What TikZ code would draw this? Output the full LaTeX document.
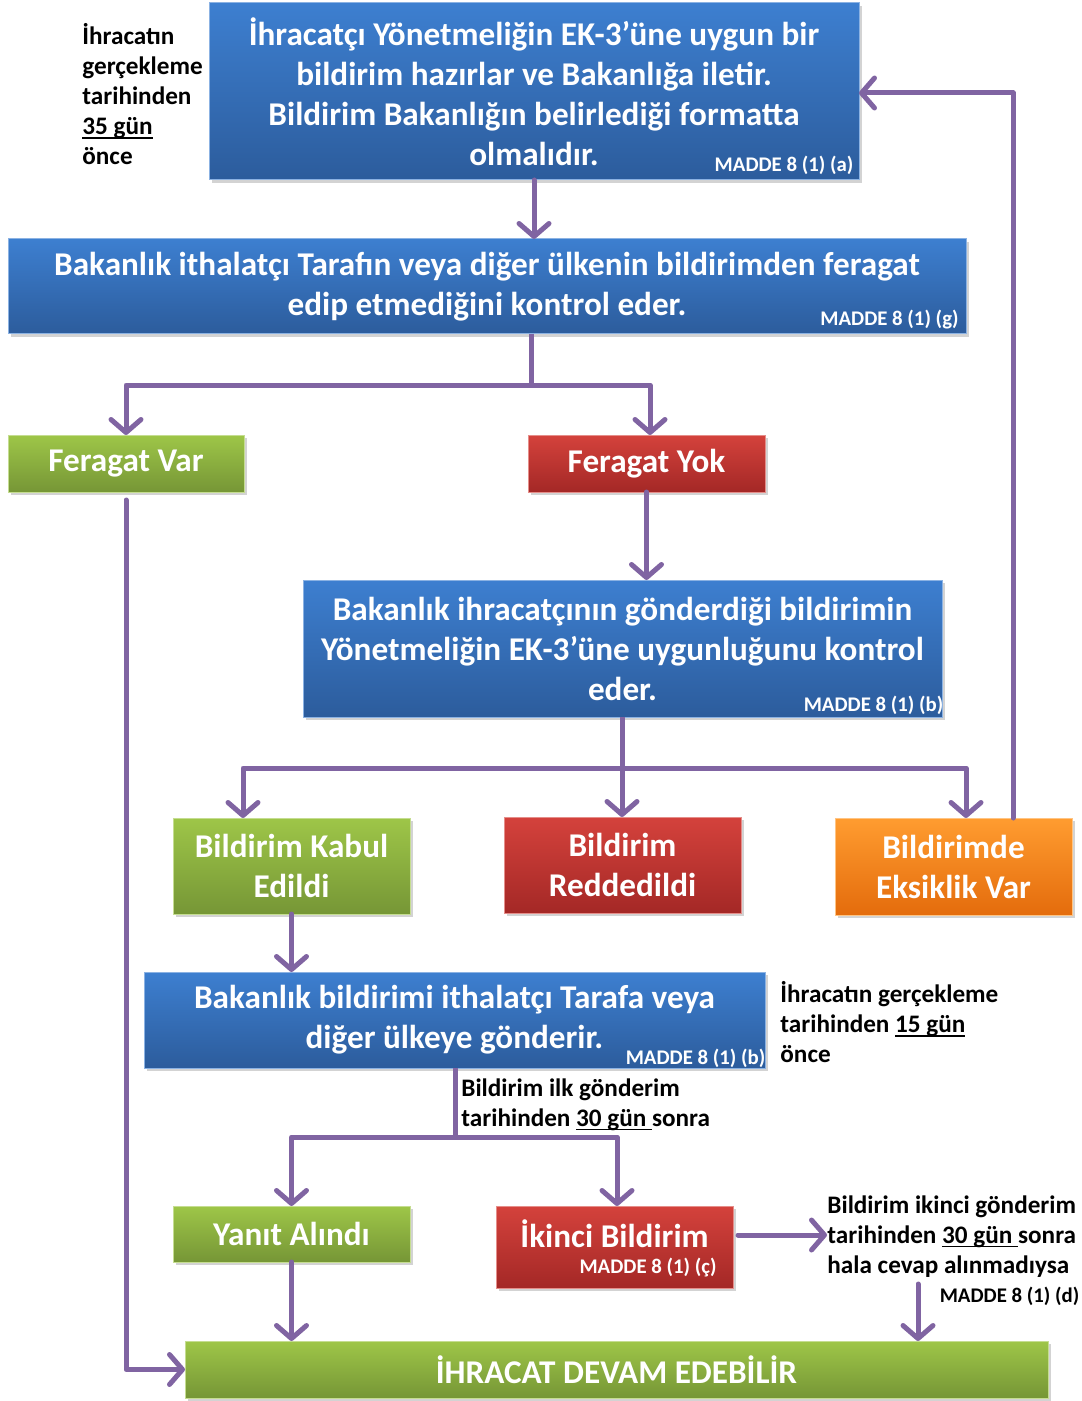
\documentclass[tikz,border=0pt]{standalone}
\usepackage{fontspec}
\setmainfont{Carlito}
\usetikzlibrary{arrows.meta,shadows}
\definecolor{lineC}{HTML}{8064A2}
\definecolor{blueT}{RGB}{61,127,208}
\definecolor{blueB}{RGB}{44,92,156}
\definecolor{greenT}{RGB}{158,198,72}
\definecolor{greenB}{RGB}{118,150,54}
\definecolor{redT}{RGB}{212,66,60}
\definecolor{redB}{RGB}{164,40,38}
\definecolor{orT}{RGB}{255,156,48}
\definecolor{orB}{RGB}{228,108,12}
\newcommand{\ulmark}[1]{\setbox0\hbox{#1}\rlap{\rule[-2.2pt]{\wd0}{0.8pt}}\box0}
\begin{document}
\begin{tikzpicture}[x=0.5pt,y=-0.5pt,
  box/.style={rectangle, inner sep=0pt, outer sep=0pt, align=center, text=white,
    font=\bfseries\fontsize{16.6}{20}\selectfont,
    drop shadow={shadow xshift=1.5pt,shadow yshift=-1.5pt,opacity=0.35}},
  bluebox/.style={box, top color=blueT, bottom color=blueB, draw=blueT!60!white, line width=0.5pt},
  greenbox/.style={box, top color=greenT, bottom color=greenB, draw=greenT!60!white, line width=0.5pt},
  redbox/.style={box, top color=redT, bottom color=redB, draw=redT!60!white, line width=0.5pt},
  orangebox/.style={box, top color=orT, bottom color=orB, draw=orT!60!white, line width=0.5pt},
  boxtext/.style={inner sep=0pt, text=white, font=\bfseries\fontsize{16.6}{20}\selectfont},
  madde/.style={inner sep=0pt, text=white, font=\bfseries\fontsize{10.4}{12}\selectfont},
  maddeb/.style={inner sep=0pt, text=black, font=\bfseries\fontsize{10.4}{12}\selectfont},
  note/.style={inner sep=0pt, align=left, anchor=north west, text=black,
    font=\bfseries\fontsize{12.6}{15}\selectfont},
  link/.style={draw=lineC, line width=2.5pt, line join=round},
  arr/.style={link, line cap=round, -{Straight Barb[length=6.5pt,width=15pt,round]}}
]
\useasboundingbox (0,0) rectangle (1081,1401);

% boxes
\node[bluebox, minimum width=325pt, minimum height=88.5pt] (b1) at (534,91.5)
  {İhracatçı Yönetmeliğin EK-3’üne uygun bir\\bildirim hazırlar ve Bakanlığa iletir.\\Bildirim Bakanlığın belirlediği formatta\\olmalıdır.};
\node[madde] (m1) at (784,165) {MADDE 8 (1) (a)};

\node[bluebox, minimum width=479pt, minimum height=47.5pt] (b2) at (487,286.5)
  {Bakanlık ithalatçı Tarafın veya diğer ülkenin bildirimden feragat\\edip etmediğini kontrol eder.};
\node[madde] (m2) at (889.5,320) {MADDE 8 (1) (g)};

\node[greenbox, minimum width=118pt, minimum height=28.5pt] (fvar) at (126,463.5) {Feragat Var};
\node[redbox, minimum width=118.5pt, minimum height=28.5pt] (fyok) at (646.5,463.5) {Feragat Yok};

\node[bluebox, minimum width=319.5pt, minimum height=68.5pt] (b3) at (622.5,648.5)
  {Bakanlık ihracatçının gönderdiği bildirimin\\Yönetmeliğin EK-3’üne uygunluğunu kontrol\\eder.};
\node[madde] (m3) at (873.5,705) {MADDE 8 (1) (b)};

\node[greenbox, minimum width=118.5pt, minimum height=48pt] (kabul) at (291.5,866) {Bildirim Kabul\\Edildi};
\node[redbox, minimum width=118.5pt, minimum height=48pt] (red) at (622.5,865) {Bildirim\\Reddedildi};
\node[orangebox, minimum width=118.5pt, minimum height=48.5pt] (eks) at (953.5,866.5) {Bildirimde\\Eksiklik Var};

\node[bluebox, minimum width=310.5pt, minimum height=48pt] (b4) at (454.5,1020)
  {Bakanlık bildirimi ithalatçı Tarafa veya\\diğer ülkeye gönderir.};
\node[madde] (m4) at (695.5,1058) {MADDE 8 (1) (b)};

\node[greenbox, minimum width=118.5pt, minimum height=28pt] (yanit) at (291.5,1234) {Yanıt Alındı};
\node[redbox, minimum width=118.5pt, minimum height=41pt] (ikinci) at (614.5,1247) {};
\node[boxtext] (ikincit) at (614.5,1234) {İkinci Bildirim};
\node[madde] (m5) at (648,1268) {MADDE 8 (1) (ç)};

\node[greenbox, minimum width=431.5pt, minimum height=28.5pt] (final) at (616.5,1369.5) {İHRACAT DEVAM EDEBİLİR};

% notes
\node[note] (n1) at (82,23) {İhracatın\\gerçekleme\\tarihinden\\\ulmark{35 gün}\\önce};
\node[note] (n2) at (780,981) {İhracatın gerçekleme\\tarihinden \ulmark{15 gün}\\önce};
\node[note] (n3) at (461,1078) {Bildirim ilk gönderim\\tarihinden \ulmark{30 gün }sonra};
\node[note] (n4) at (827,1195) {Bildirim ikinci gönderim\\tarihinden \ulmark{30 gün }sonra\\hala cevap alınmadıysa};
\node[maddeb] (m6) at (1009.5,1296) {MADDE 8 (1) (d)};

% connectors
\coordinate (j1) at (531,385);
\coordinate (j2) at (622,768);
\coordinate (j3) at (455,1137);
\coordinate (d1) at (918,1284);

\draw[arr] (b1.south) -- (b1.south |- b2.north);
\draw[link] (b2.south -| j1) -- (j1);
\draw[arr] (j1) -| (fvar.north);
\draw[arr] (j1) -| ([xshift=1.75pt]fyok.north);
\draw[arr] (fyok.south) -- (fyok.south |- b3.north);
\draw[link] (b3.south -| j2) -- (j2);
\draw[arr] (j2) -| ([xshift=-24.25pt]kabul.north);
\draw[arr] (j2) -- (j2 |- red.north);
\draw[arr] (j2) -| ([xshift=6.25pt]eks.north);
\draw[arr] ([xshift=29.75pt]eks.north) |- ([yshift=-0.75pt]b1.east);
\draw[arr] (kabul.south) -- (kabul.south |- b4.north);
\draw[link] (b4.south -| j3) -- (j3);
\draw[arr] (j3) -| (yanit.north);
\draw[arr] (j3) -| ([xshift=1.25pt]ikinci.north);
\draw[arr] (yanit.south) -- (yanit.south |- final.north);
\draw[arr] ([xshift=2.5pt,yshift=6pt]ikinci.east) -- ([yshift=6pt]ikinci.east -| n4.west);
\draw[arr] (d1) -- (d1 |- final.north);
\draw[arr] ([yshift=-4pt]fvar.south) |- (final.west);
\end{tikzpicture}
\end{document}
